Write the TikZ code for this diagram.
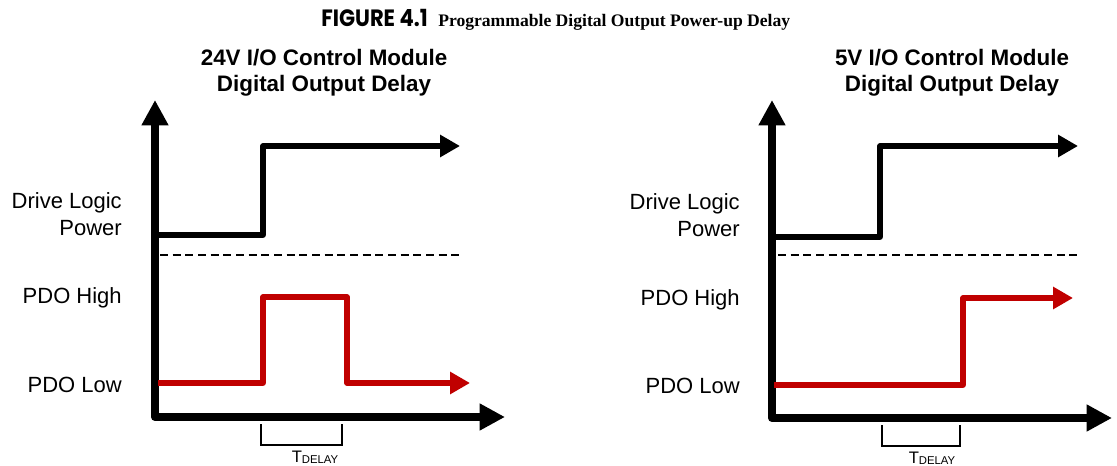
\documentclass[tikz,border=0pt]{standalone}
\usepackage{fontspec}
\setmainfont{Liberation Sans}
\newfontfamily\figfont{Poppins}
\newfontfamily\timesfont{Liberation Serif}
\usetikzlibrary{arrows.meta}
\definecolor{sigred}{RGB}{192,0,0}
\tikzset{
  axis/.style={line width=6pt, line join=round, {Triangle[length=19pt,width=19pt]}-{Triangle[length=19pt,width=19pt]}},
  sigline/.style={line width=3.8pt, line join=round, -{Triangle[length=15pt,width=16pt]}},
  redline/.style={sigline, draw=sigred},
  dashline/.style={line width=0.8pt, dash pattern=on 6pt off 3.5pt},
  bracket/.style={line width=1.5pt},
  lab/.style={font=\fontsize{16.5}{20}\selectfont, align=right, anchor=east, inner sep=0pt},
  ttl/.style={font=\fontsize{16.8}{19.5}\selectfont\bfseries, align=center, inner sep=0pt},
  tdel/.style={inner sep=0pt}
}
\newcommand{\tdelay}{\fontsize{12.5}{13}\selectfont T\raisebox{-0.5pt}{\fontsize{8.5}{9}\selectfont DELAY}}
\begin{document}
\begin{tikzpicture}[x=0.75pt,y=-0.75pt]
\useasboundingbox (0,0) rectangle (1117,466);
% figure title
\node[inner sep=0pt, anchor=base east] (figt) at (428,27) {\scalebox{1}[1.12]{\figfont\fontsize{15.8}{19}\selectfont\bfseries FIGURE 4.1}};
\node[inner sep=0pt, anchor=base west] (figs) at (438,27) {\timesfont\fontsize{13.2}{16}\selectfont\bfseries Programmable Digital Output Power-up Delay};
% ===== left panel =====
\node[ttl] (t1) at (324,73) {24V I/O Control Module\\Digital Output Delay};
\coordinate (ya) at (155,100);
\coordinate (o1) at (155,417);
\coordinate (xa) at (505,417);
\draw[axis] (ya) -- (o1) -- (xa);
\coordinate (b1) at (155,235);
\coordinate (b2) at (263,235);
\coordinate (b3) at (263,146);
\coordinate (b4) at (460,146);
\draw[sigline] (b1) -- (b2) -- (b3) -- (b4);
\coordinate (d1) at (160,255);
\coordinate (d2) at (460,255);
\draw[dashline] (d1) -- (d2);
\coordinate (r1) at (158,383);
\coordinate (r2) at (263,383);
\coordinate (r3) at (263,297);
\coordinate (r4) at (347,297);
\coordinate (r5) at (347,383);
\coordinate (r6) at (470,383);
\draw[redline] (r1) -- (r2) -- (r3) -- (r4) -- (r5) -- (r6);
\coordinate (k1) at (261,424);
\coordinate (k2) at (261,445);
\coordinate (k3) at (342,445);
\coordinate (k4) at (342,424);
\draw[bracket] (k1) -- (k2) -- (k3) -- (k4);
\node[tdel] (td1) at (315,457) {\tdelay};
\node[lab] (l1) at (122,214) {Drive Logic\\Power};
\node[lab] (l2) at (122,298) {PDO High};
\node[lab] (l3) at (122,385) {PDO Low};
% ===== right panel =====
\node[ttl] (t2) at (952,73) {5V I/O Control Module\\Digital Output Delay};
\coordinate (ya2) at (772,100);
\coordinate (o2) at (772,418);
\coordinate (xa2) at (1112,418);
\draw[axis] (ya2) -- (o2) -- (xa2);
\coordinate (c1) at (772,237);
\coordinate (c2) at (880,237);
\coordinate (c3) at (880,146);
\coordinate (c4) at (1078,146);
\draw[sigline] (c1) -- (c2) -- (c3) -- (c4);
\coordinate (e1) at (778,255);
\coordinate (e2) at (1078,255);
\draw[dashline] (e1) -- (e2);
\coordinate (s1) at (774,385);
\coordinate (s2) at (963,385);
\coordinate (s3) at (963,298);
\coordinate (s4) at (1073,298);
\draw[redline] (s1) -- (s2) -- (s3) -- (s4);
\coordinate (m1) at (882,425);
\coordinate (m2) at (882,446);
\coordinate (m3) at (960,446);
\coordinate (m4) at (960,425);
\draw[bracket] (m1) -- (m2) -- (m3) -- (m4);
\node[tdel] (td2) at (932,458) {\tdelay};
\node[lab] (l4) at (740,215) {Drive Logic\\Power};
\node[lab] (l5) at (740,300) {PDO High};
\node[lab] (l6) at (740,386) {PDO Low};
\end{tikzpicture}
\end{document}
